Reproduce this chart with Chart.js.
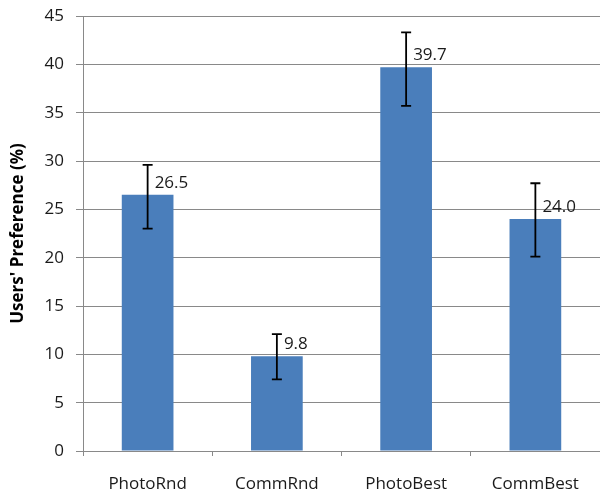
<!DOCTYPE html>
<html>
<head>
<meta charset="utf-8">
<script src="https://cdn.jsdelivr.net/npm/chart.js@4"></script>
<style>
  html, body { margin: 0; padding: 0; background: #fff; }
  #wrap { width: 600px; height: 495px; }
</style>
</head>
<body>
<div id="wrap"><canvas id="chart" width="600" height="495"></canvas></div>
<script>
// values
const categories = ['PhotoRnd', 'CommRnd', 'PhotoBest', 'CommBest'];
const preference = [26.5, 9.8, 39.7, 24.0];
const errLow = [23.0, 7.4, 35.7, 20.1];
const errHigh = [29.6, 12.1, 43.3, 27.7];
const yTicks = [0, 5, 10, 15, 20, 25, 30, 35, 40, 45];

const gridGray = '#898989';
const textColor = '#1a1a1a';
const font = 'Open Sans';

// error bars + value labels, placed through the chart's own scales
const errorBars = {
  id: 'errorBars',
  afterDatasetsDraw(chart) {
    const ctx = chart.ctx;
    const y = chart.scales.y;
    const meta = chart.getDatasetMeta(0);
    ctx.save();
    ctx.strokeStyle = '#000';
    ctx.lineWidth = 1.8;
    meta.data.forEach((bar, i) => {
      const top = y.getPixelForValue(errHigh[i]);
      const bot = y.getPixelForValue(errLow[i]);
      ctx.beginPath();
      ctx.moveTo(bar.x, top);
      ctx.lineTo(bar.x, bot);
      ctx.moveTo(bar.x - 5, top);
      ctx.lineTo(bar.x + 5, top);
      ctx.moveTo(bar.x - 5, bot);
      ctx.lineTo(bar.x + 5, bot);
      ctx.stroke();
    });
    ctx.fillStyle = textColor;
    ctx.font = '17px "' + font + '"';
    ctx.textAlign = 'left';
    ctx.textBaseline = 'middle';
    meta.data.forEach((bar, i) => {
      ctx.fillText(preference[i].toFixed(1), bar.x + 7, bar.y - 12);
    });
    ctx.restore();
  },
};

new Chart(document.getElementById('chart'), {
  type: 'bar',
  plugins: [errorBars],
  data: {
    labels: categories,
    datasets: [
      {
        label: "Users' Preference",
        data: preference,
        backgroundColor: '#4a7ebb',
        categoryPercentage: 1,
        barPercentage: 0.4,
      },
    ],
  },
  options: {
    responsive: false,
    animation: false,
    devicePixelRatio: 1,
    layout: {
      padding: { top: 16, right: 0, bottom: 0, left: 0 },
    },
    plugins: {
      legend: { display: false },
      tooltip: { enabled: false },
    },
    scales: {
      x: {
        afterFit(scale) {
          scale.height = 44;
        },
        grid: {
          offset: true,
          drawOnChartArea: false,
          drawTicks: true,
          tickLength: 5,
          color: gridGray,
        },
        border: { display: true, color: gridGray },
        ticks: {
          color: textColor,
          padding: 18,
          font: { family: font, size: 17 },
        },
      },
      y: {
        min: 0,
        max: 45,
        afterFit(scale) {
          scale.width = 83;
          scale.paddingTop = 0;
        },
        afterBuildTicks(scale) {
          scale.ticks = yTicks.map((v) => ({ value: v }));
        },
        grid: {
          color: gridGray,
          tickLength: 7,
        },
        border: { display: true, color: gridGray },
        ticks: {
          color: textColor,
          padding: 12,
          font: { family: font, size: 17 },
        },
        title: {
          display: true,
          text: "Users' Preference (%)",
          color: '#000',
          font: { family: font, size: 17, weight: 'bold' },
          padding: { top: 8, bottom: 0 },
        },
      },
    },
  },
});
</script>
</body>
</html>
